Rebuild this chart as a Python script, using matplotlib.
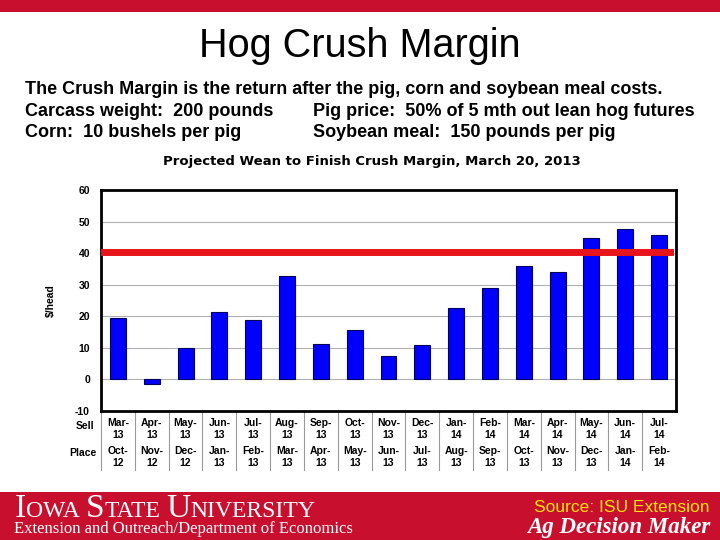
import matplotlib.pyplot as plt
from matplotlib.lines import Line2D
from matplotlib.patches import Rectangle

sell = ["Mar-\n13", "Apr-\n13", "May-\n13", "Jun-\n13", "Jul-\n13", "Aug-\n13", "Sep-\n13", "Oct-\n13",
        "Nov-\n13", "Dec-\n13", "Jan-\n14", "Feb-\n14", "Mar-\n14", "Apr-\n14", "May-\n14", "Jun-\n14", "Jul-\n14"]
place = ["Oct-\n12", "Nov-\n12", "Dec-\n12", "Jan-\n13", "Feb-\n13", "Mar-\n13", "Apr-\n13", "May-\n13",
         "Jun-\n13", "Jul-\n13", "Aug-\n13", "Sep-\n13", "Oct-\n13", "Nov-\n13", "Dec-\n13", "Jan-\n14", "Feb-\n14"]
margin = [19.3, -1.6, 10.0, 21.5, 18.8, 32.8, 11.3, 15.6, 7.5, 11.0, 22.7, 29.1, 35.8, 33.9, 44.8, 47.5, 45.6]
reference = 40.5

W, H = 720, 540
fig = plt.figure(figsize=(7.2, 5.4), dpi=100)
fig.patch.set_facecolor("white")

isu_red = "#C8102E"
# top and bottom red bands
fig.add_artist(Rectangle((0, 1 - 12 / H), 1, 12 / H, transform=fig.transFigure, color=isu_red, lw=0))
fig.add_artist(Rectangle((0, 0), 1, 48 / H, transform=fig.transFigure, color=isu_red, lw=0))

def fx(px):
    return px / W

def fy(py):
    return 1 - py / H

fig.text(0.5, fy(46), "Hog Crush Margin", ha="center", va="center", fontsize=28.5, family="Liberation Sans")

sub = dict(fontsize=13, weight="bold", family="Liberation Sans", va="center")
fig.text(fx(25), fy(90), "The Crush Margin is the return after the pig, corn and soybean meal costs.", **sub)
fig.text(fx(25), fy(112), "Carcass weight:  200 pounds", **sub)
fig.text(fx(313), fy(112), "Pig price:  50% of 5 mth out lean hog futures", **sub)
fig.text(fx(25), fy(133), "Corn:  10 bushels per pig", **sub)
fig.text(fx(313), fy(133), "Soybean meal:  150 pounds per pig", **sub)

fig.text(fx(372), fy(162), "Projected Wean to Finish Crush Margin, March 20, 2013", ha="center", va="center",
         fontsize=9.5, weight="bold", family="DejaVu Sans")

ax = fig.add_axes([fx(101), fy(411), fx(676) - fx(101), fy(190) - fy(411)])
x = list(range(len(margin)))
ax.bar(x, margin, width=0.47, color="#0000FF", edgecolor="#000060", linewidth=0.8, zorder=3)
ax.axhline(reference, color="#E8141B", lw=5, zorder=4, xmin=0.005, xmax=0.99)
ax.set_xlim(-0.5, len(margin) - 0.5)
ax.set_ylim(-10, 60)
ax.set_yticks(range(-10, 61, 10))
ax.set_yticklabels([str(v) for v in range(-10, 61, 10)], fontsize=7.5, weight="bold", family="Liberation Sans")
ax.tick_params(axis="y", length=0, pad=8)
ax.set_xticks([])
ax.grid(axis="y", color="#b0b0b0", lw=0.8, zorder=0)
for s in ax.spines.values():
    s.set_linewidth(2)
ax.set_ylabel("$/head", fontsize=7.5, weight="bold", family="Liberation Sans", labelpad=14)

# category table below the axis
tr = ax.get_xaxis_transform()
ax_h = 411 - 190
def ay(py):
    return (411 - py) / ax_h

cell = dict(transform=tr, ha="center", va="center", fontsize=7.5, weight="bold", family="Liberation Sans",
            linespacing=1.15, clip_on=False)
for i in x:
    ax.text(i, ay(429), sell[i], **cell)
    ax.text(i, ay(457), place[i], **cell)
    ax.add_line(Line2D([i - 0.5, i - 0.5], [0, ay(470)], transform=tr, color="#999999", lw=0.8,
                       clip_on=False))
fig.text(fx(85), fy(426), "Sell", ha="center", va="center", fontsize=7.5, weight="bold", family="Liberation Sans")
fig.text(fx(83), fy(453), "Place", ha="center", va="center", fontsize=7.5, weight="bold", family="Liberation Sans")

# footer: small-caps wordmark built piece by piece
renderer = fig.canvas.get_renderer()
xpos = 15
pieces = [("I", 24), ("OWA", 17), (" ", 17), ("S", 24), ("TATE", 17), (" ", 17), ("U", 24), ("NIVERSITY", 17)]
for txt, size in pieces:
    t = fig.text(fx(xpos), fy(517), txt, fontsize=size, color="white", family="Liberation Serif", va="baseline")
    xpos += t.get_window_extent(renderer).width
fig.text(fx(14), fy(529), "Extension and Outreach/Department of Economics", fontsize=12, color="white",
         family="Liberation Serif", va="center")
fig.text(fx(710), fy(507), "Source: ISU Extension", fontsize=12.5, color="#FFE600", family="Liberation Sans",
         ha="right", va="center")
fig.text(fx(710), fy(527), "Ag Decision Maker", fontsize=16.5, color="white", family="Liberation Serif",
         weight="bold", style="italic", ha="right", va="center")

fig.savefig("out.png", dpi=100)
